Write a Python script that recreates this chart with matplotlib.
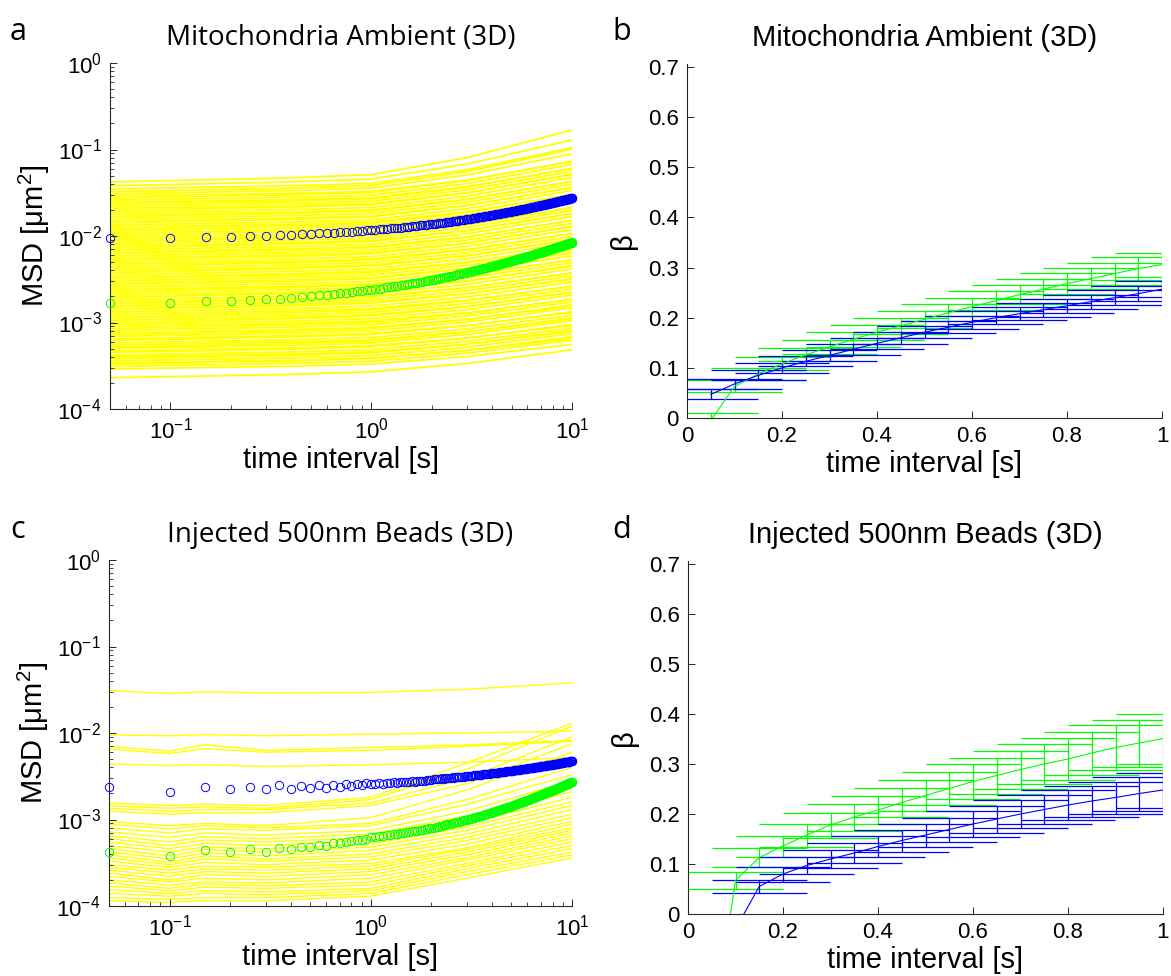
import numpy as np
import matplotlib
matplotlib.use("Agg")
import matplotlib.pyplot as plt
from matplotlib.ticker import LogLocator, NullFormatter, FixedLocator

plt.rcParams['font.family'] = ['Liberation Sans', 'DejaVu Sans']
plt.rcParams['mathtext.default'] = 'regular'
plt.rcParams['axes.unicode_minus'] = False

# lag times of the ensemble MSD (s), frame interval 0.05 s
lag = np.round(np.arange(1, 201) * 0.05, 2)

# ensemble MSD circles, in 1e-3 um^2
mito_blue = [9.39, 9.54, 9.69, 9.82, 9.95, 10.08, 10.21, 10.33, 10.45, 10.57, 10.69, 10.81, 10.92, 11.04, 11.15, 11.26, 11.37, 11.48, 11.59, 11.70,
             11.80, 11.91, 12.01, 12.11, 12.21, 12.32, 12.42, 12.52, 12.62, 12.73, 12.83, 12.93, 13.03, 13.14, 13.24, 13.34, 13.44, 13.55, 13.65, 13.75,
             13.85, 13.94, 14.04, 14.13, 14.23, 14.32, 14.42, 14.51, 14.61, 14.70, 14.80, 14.90, 14.99, 15.09, 15.18, 15.28, 15.37, 15.47, 15.56, 15.66,
             15.75, 15.84, 15.93, 16.02, 16.12, 16.21, 16.30, 16.39, 16.48, 16.57, 16.66, 16.75, 16.84, 16.93, 17.03, 17.12, 17.21, 17.30, 17.39, 17.48,
             17.57, 17.66, 17.74, 17.83, 17.92, 18.01, 18.10, 18.18, 18.27, 18.36, 18.45, 18.54, 18.62, 18.71, 18.80, 18.89, 18.98, 19.06, 19.15, 19.24,
             19.33, 19.41, 19.50, 19.58, 19.67, 19.75, 19.84, 19.92, 20.01, 20.10, 20.18, 20.27, 20.35, 20.44, 20.52, 20.61, 20.69, 20.78, 20.86, 20.95,
             21.03, 21.12, 21.20, 21.29, 21.37, 21.45, 21.54, 21.62, 21.71, 21.79, 21.87, 21.96, 22.04, 22.13, 22.21, 22.29, 22.38, 22.46, 22.55, 22.63,
             22.71, 22.79, 22.88, 22.96, 23.04, 23.12, 23.20, 23.29, 23.37, 23.45, 23.53, 23.61, 23.70, 23.78, 23.86, 23.94, 24.02, 24.11, 24.19, 24.27,
             24.35, 24.43, 24.51, 24.59, 24.68, 24.76, 24.84, 24.92, 25.00, 25.08, 25.16, 25.24, 25.32, 25.40, 25.49, 25.57, 25.65, 25.73, 25.81, 25.89,
             25.97, 26.05, 26.13, 26.21, 26.29, 26.37, 26.45, 26.53, 26.61, 26.69, 26.76, 26.84, 26.92, 27.00, 27.08, 27.16, 27.24, 27.32, 27.40, 27.48]
mito_green = [1.67, 1.67, 1.76, 1.78, 1.83, 1.87, 1.89, 1.94, 1.98, 2.02, 2.06, 2.10, 2.14, 2.18, 2.22, 2.26, 2.29, 2.33, 2.36, 2.40,
              2.44, 2.47, 2.51, 2.54, 2.58, 2.61, 2.65, 2.68, 2.72, 2.76, 2.79, 2.83, 2.86, 2.90, 2.93, 2.97, 3.00, 3.04, 3.07, 3.11,
              3.14, 3.18, 3.21, 3.25, 3.28, 3.32, 3.35, 3.39, 3.42, 3.46, 3.49, 3.52, 3.56, 3.59, 3.63, 3.66, 3.70, 3.73, 3.77, 3.80,
              3.83, 3.87, 3.90, 3.94, 3.97, 4.00, 4.04, 4.07, 4.11, 4.14, 4.17, 4.21, 4.24, 4.28, 4.31, 4.34, 4.38, 4.41, 4.45, 4.48,
              4.51, 4.55, 4.58, 4.61, 4.65, 4.68, 4.71, 4.75, 4.78, 4.82, 4.85, 4.88, 4.92, 4.95, 4.98, 5.02, 5.05, 5.08, 5.12, 5.15,
              5.18, 5.22, 5.25, 5.28, 5.32, 5.35, 5.38, 5.42, 5.45, 5.49, 5.52, 5.55, 5.59, 5.62, 5.65, 5.69, 5.72, 5.75, 5.79, 5.82,
              5.85, 5.89, 5.92, 5.95, 5.98, 6.02, 6.05, 6.08, 6.12, 6.15, 6.18, 6.22, 6.25, 6.28, 6.32, 6.35, 6.38, 6.41, 6.45, 6.48,
              6.51, 6.55, 6.58, 6.61, 6.65, 6.68, 6.71, 6.74, 6.78, 6.81, 6.84, 6.88, 6.91, 6.94, 6.98, 7.01, 7.04, 7.07, 7.11, 7.14,
              7.17, 7.20, 7.24, 7.27, 7.30, 7.33, 7.37, 7.40, 7.43, 7.46, 7.50, 7.53, 7.56, 7.59, 7.63, 7.66, 7.69, 7.72, 7.76, 7.79,
              7.82, 7.85, 7.89, 7.92, 7.95, 7.98, 8.02, 8.05, 8.08, 8.11, 8.15, 8.18, 8.21, 8.24, 8.28, 8.31, 8.34, 8.37, 8.41, 8.44]
bead_blue = [2.39, 2.10, 2.39, 2.23, 2.39, 2.23, 2.51, 2.23, 2.46, 2.33, 2.51, 2.29, 2.51, 2.36, 2.55, 2.43, 2.55, 2.51, 2.62, 2.55,
             2.58, 2.64, 2.60, 2.66, 2.63, 2.69, 2.66, 2.71, 2.68, 2.74, 2.71, 2.77, 2.74, 2.79, 2.77, 2.82, 2.80, 2.86, 2.84, 2.90,
             2.93, 2.91, 2.96, 2.94, 2.99, 2.96, 3.01, 2.99, 3.04, 3.02, 3.06, 3.04, 3.09, 3.07, 3.11, 3.10, 3.14, 3.12, 3.17, 3.17,
             3.18, 3.20, 3.21, 3.22, 3.23, 3.25, 3.26, 3.27, 3.28, 3.30, 3.31, 3.32, 3.33, 3.35, 3.36, 3.37, 3.38, 3.40, 3.41, 3.42,
             3.43, 3.44, 3.46, 3.47, 3.48, 3.49, 3.50, 3.52, 3.53, 3.54, 3.55, 3.56, 3.58, 3.59, 3.60, 3.61, 3.62, 3.64, 3.65, 3.66,
             3.67, 3.68, 3.69, 3.71, 3.72, 3.73, 3.74, 3.75, 3.76, 3.78, 3.79, 3.80, 3.81, 3.82, 3.83, 3.84, 3.86, 3.87, 3.88, 3.89,
             3.90, 3.91, 3.92, 3.93, 3.95, 3.96, 3.97, 3.98, 3.99, 4.00, 4.01, 4.02, 4.03, 4.04, 4.06, 4.07, 4.08, 4.09, 4.10, 4.11,
             4.12, 4.13, 4.14, 4.15, 4.16, 4.17, 4.18, 4.19, 4.20, 4.22, 4.23, 4.24, 4.25, 4.26, 4.27, 4.28, 4.29, 4.30, 4.31, 4.32,
             4.33, 4.34, 4.35, 4.36, 4.38, 4.39, 4.40, 4.41, 4.42, 4.43, 4.44, 4.45, 4.46, 4.47, 4.49, 4.50, 4.51, 4.52, 4.53, 4.54,
             4.55, 4.56, 4.57, 4.58, 4.59, 4.60, 4.61, 4.62, 4.63, 4.64, 4.65, 4.66, 4.67, 4.68, 4.69, 4.70, 4.71, 4.72, 4.73, 4.74]
bead_green = [0.417, 0.379, 0.444, 0.424, 0.452, 0.424, 0.464, 0.452, 0.477, 0.477, 0.507, 0.500, 0.531, 0.531, 0.554, 0.565, 0.580, 0.587, 0.595, 0.622,
              0.634, 0.642, 0.651, 0.659, 0.668, 0.677, 0.685, 0.694, 0.702, 0.711, 0.720, 0.728, 0.737, 0.745, 0.754, 0.763, 0.771, 0.780, 0.788, 0.797,
              0.807, 0.817, 0.827, 0.836, 0.846, 0.856, 0.866, 0.876, 0.886, 0.896, 0.905, 0.915, 0.925, 0.935, 0.945, 0.955, 0.964, 0.974, 0.984, 0.994,
              1.005, 1.015, 1.026, 1.037, 1.047, 1.058, 1.069, 1.079, 1.090, 1.101, 1.111, 1.122, 1.132, 1.143, 1.154, 1.164, 1.175, 1.186, 1.196, 1.207,
              1.218, 1.230, 1.241, 1.253, 1.264, 1.275, 1.287, 1.298, 1.310, 1.321, 1.332, 1.344, 1.355, 1.367, 1.378, 1.389, 1.401, 1.412, 1.424, 1.435,
              1.447, 1.459, 1.471, 1.483, 1.495, 1.507, 1.519, 1.531, 1.543, 1.555, 1.566, 1.578, 1.590, 1.602, 1.614, 1.626, 1.638, 1.650, 1.662, 1.674,
              1.686, 1.699, 1.711, 1.724, 1.736, 1.749, 1.761, 1.774, 1.786, 1.799, 1.811, 1.823, 1.836, 1.848, 1.861, 1.873, 1.886, 1.898, 1.911, 1.923,
              1.936, 1.949, 1.962, 1.975, 1.988, 2.001, 2.014, 2.027, 2.040, 2.053, 2.065, 2.078, 2.091, 2.104, 2.117, 2.130, 2.143, 2.156, 2.169, 2.182,
              2.195, 2.209, 2.222, 2.235, 2.249, 2.262, 2.275, 2.289, 2.302, 2.316, 2.329, 2.342, 2.356, 2.369, 2.382, 2.396, 2.409, 2.422, 2.436, 2.449,
              2.463, 2.476, 2.490, 2.504, 2.517, 2.531, 2.545, 2.559, 2.572, 2.586, 2.600, 2.613, 2.627, 2.641, 2.654, 2.668, 2.682, 2.696, 2.709, 2.723]

# single mitochondria tracks (yellow), MSD in 1e-3 um^2 at t = 0.05, 0.4, 1, 3, 10 s
mito_track_t = [0.05, 0.4, 1.0, 3.0, 10.0]
mito_at_005 = [0.23, 0.29, 0.31, 0.33, 0.34, 0.36, 0.38, 0.40, 0.42, 0.45, 0.47, 0.50, 0.52, 0.55, 0.58, 0.62, 0.65, 0.69, 0.72, 0.76,
               0.81, 0.85, 0.90, 0.95, 1.00, 1.06, 1.12, 1.18, 1.25, 1.32, 1.40, 1.48, 1.56, 1.65, 1.74, 1.84, 1.95, 2.06, 2.18, 2.30,
               2.43, 2.57, 2.72, 2.87, 3.03, 3.20, 3.38, 3.58, 3.78, 4.00, 4.22, 4.46, 4.72, 4.98, 5.27, 5.57, 5.88, 6.22, 6.57, 6.94,
               7.33, 7.75, 8.19, 8.65, 9.14, 9.66, 10.2, 10.8, 11.4, 12.0, 12.7, 13.4, 14.2, 15.0, 15.9, 16.8, 17.7, 18.7, 19.8, 20.9,
               22.1, 23.3, 24.6, 26.0, 27.5, 29.1, 30.7, 32.5, 35.0, 38.0, 42.0]
mito_at_04 = [0.251, 0.312, 0.336, 0.359, 0.367, 0.390, 0.417, 0.432, 0.456, 0.491, 0.508, 0.544, 0.571, 0.595, 0.631, 0.679, 0.705, 0.752, 0.793, 0.825,
              0.884, 0.933, 0.978, 1.038, 1.104, 1.153, 1.225, 1.298, 1.362, 1.446, 1.549, 1.614, 1.711, 1.819, 1.890, 2.010, 2.153, 2.241, 2.384, 2.529,
              2.633, 2.800, 2.995, 3.114, 3.305, 3.510, 3.672, 3.910, 4.172, 4.350, 4.615, 4.904, 5.114, 5.424, 5.801, 6.042, 6.413, 6.821, 7.099, 7.540,
              8.048, 8.384, 8.909, 9.461, 9.850, 10.47, 11.17, 11.65, 12.37, 13.09, 13.65, 14.48, 15.51, 16.14, 17.20, 18.28, 18.97, 20.16, 21.57, 22.43,
              23.85, 25.28, 26.30, 27.95, 29.88, 31.15, 33.6, 35.7, 38.1, 42.2, 47.1]
mito_at_1 = [0.269, 0.331, 0.357, 0.384, 0.389, 0.415, 0.446, 0.458, 0.486, 0.525, 0.540, 0.579, 0.613, 0.633, 0.673, 0.727, 0.749, 0.803, 0.853, 0.878,
             0.944, 1.000, 1.042, 1.110, 1.189, 1.230, 1.311, 1.394, 1.453, 1.549, 1.672, 1.724, 1.834, 1.958, 2.014, 2.149, 2.318, 2.389, 2.551, 2.717,
             2.799, 2.988, 3.219, 3.313, 3.531, 3.763, 3.910, 4.180, 4.492, 4.637, 4.937, 5.266, 5.436, 5.789, 6.235, 6.428, 6.849, 7.312, 7.532, 8.031,
             8.635, 8.903, 9.497, 10.12, 10.43, 11.13, 11.96, 12.35, 13.16, 13.98, 14.43, 15.37, 16.58, 17.08, 18.27, 19.49, 20.02, 21.35, 23.02, 23.68,
             25.28, 26.91, 27.69, 29.55, 31.82, 32.82, 35.9, 38.4, 40.6, 45.6, 51.2]
mito_at_3 = [0.336, 0.404, 0.441, 0.478, 0.474, 0.518, 0.560, 0.562, 0.605, 0.657, 0.662, 0.727, 0.775, 0.782, 0.842, 0.915, 0.925, 1.013, 1.083, 1.091,
             1.188, 1.267, 1.294, 1.408, 1.518, 1.538, 1.659, 1.775, 1.815, 1.975, 2.145, 2.167, 2.333, 2.506, 2.538, 2.764, 2.999, 3.029, 3.273, 3.505,
             3.558, 3.875, 4.198, 4.241, 4.569, 4.896, 5.001, 5.447, 5.889, 5.963, 6.418, 6.888, 7.007, 7.607, 8.236, 8.337, 8.979, 9.637, 9.792, 10.64,
             11.49, 11.65, 12.55, 13.45, 13.68, 14.86, 16.05, 16.29, 17.53, 18.72, 19.08, 20.69, 22.42, 22.72, 24.54, 26.29, 26.69, 28.95, 31.35, 31.73,
             34.20, 36.60, 37.22, 40.39, 43.66, 44.34, 50.7, 55.4, 58.3, 67.7, 80.4]
mito_at_10 = [0.483, 0.559, 0.624, 0.683, 0.655, 0.743, 0.813, 0.787, 0.863, 0.950, 0.924, 1.052, 1.134, 1.104, 1.214, 1.333, 1.305, 1.479, 1.599, 1.556,
              1.729, 1.862, 1.842, 2.075, 2.261, 2.213, 2.435, 2.633, 2.610, 2.936, 3.221, 3.149, 3.454, 3.747, 3.703, 4.166, 4.565, 4.466, 4.916, 5.315,
              5.268, 5.924, 6.476, 6.337, 6.954, 7.526, 7.463, 8.395, 9.155, 8.992, 9.854, 10.67, 10.61, 11.88, 12.97, 12.75, 13.97, 15.13, 15.04, 16.83,
              18.34, 18.05, 19.78, 21.38, 21.29, 23.82, 25.93, 25.59, 28.00, 30.14, 30.09, 33.58, 36.66, 36.14, 39.69, 42.87, 42.64, 47.61, 51.92, 51.18,
              56.05, 60.39, 60.25, 67.24, 73.21, 72.43, 89.0, 100.8, 105.0, 129.2, 168.0]

# single bead tracks (yellow), MSD in 1e-3 um^2 at the times below
bead_track_t = [0.05, 0.1, 0.15, 0.3, 1.0, 3.0, 10.0]
bead_at_005 = [31.0, 9.5, 7.0, 6.5, 4.4, 1.55, 1.45, 1.35, 1.25, 0.95, 0.88, 0.80, 0.72, 0.65, 0.60, 0.55, 0.50,
               0.46, 0.42, 0.39, 0.36, 0.33, 0.30, 0.28, 0.26, 0.24, 0.22, 0.20, 0.185, 0.17, 0.155, 0.14, 0.125, 0.115]
bead_at_01 = [28.5, 9.3, 6.2, 5.8, 4.2, 1.45, 1.35, 1.25, 1.15, 0.85, 0.78, 0.70, 0.62, 0.55, 0.50, 0.46, 0.42,
              0.38, 0.35, 0.32, 0.30, 0.28, 0.26, 0.24, 0.22, 0.20, 0.19, 0.175, 0.16, 0.15, 0.14, 0.13, 0.12, 0.11]
bead_at_015 = [30.0, 9.6, 7.3, 6.6, 4.3, 1.50, 1.40, 1.30, 1.20, 0.90, 0.85, 0.78, 0.70, 0.63, 0.58, 0.53, 0.48,
               0.45, 0.41, 0.38, 0.35, 0.32, 0.29, 0.27, 0.25, 0.23, 0.21, 0.19, 0.18, 0.165, 0.15, 0.14, 0.125, 0.115]
bead_at_03 = [29.0, 9.3, 6.3, 6.0, 4.1, 1.45, 1.35, 1.30, 1.20, 0.85, 0.80, 0.75, 0.66, 0.60, 0.55, 0.50, 0.46,
              0.42, 0.38, 0.35, 0.33, 0.30, 0.28, 0.26, 0.24, 0.22, 0.20, 0.185, 0.17, 0.16, 0.145, 0.135, 0.125, 0.115]
bead_at_1 = [29.5, 9.7, 6.8, 6.3, 4.3, 1.80, 1.70, 1.55, 1.45, 1.05, 0.90, 0.85, 0.75, 0.68, 0.62, 0.58, 0.52,
             0.48, 0.44, 0.40, 0.37, 0.34, 0.31, 0.29, 0.27, 0.25, 0.23, 0.21, 0.19, 0.175, 0.16, 0.15, 0.14, 0.13]
bead_at_3 = [32.0, 10.0, 7.3, 7.0, 4.6, 4.5, 3.8, 3.0, 2.6, 2.2, 1.7, 1.5, 1.25, 1.10, 1.00, 0.90, 0.82,
             0.75, 0.68, 0.62, 0.57, 0.52, 0.47, 0.45, 0.42, 0.39, 0.36, 0.34, 0.31, 0.29, 0.27, 0.25, 0.23, 0.21]
bead_at_10 = [38.0, 10.5, 8.2, 8.0, 5.2, 13.0, 12.0, 9.0, 7.5, 6.0, 4.0, 3.3, 2.8, 2.3, 2.1, 1.8, 1.6,
              1.45, 1.30, 1.15, 1.05, 0.95, 0.88, 0.80, 0.75, 0.70, 0.65, 0.60, 0.55, 0.50, 0.46, 0.42, 0.39, 0.36]

# beta (local power-law exponent) with error
beta_t = [0.05, 0.10, 0.15, 0.20, 0.25, 0.30, 0.35, 0.40, 0.45, 0.50,
          0.55, 0.60, 0.65, 0.70, 0.75, 0.80, 0.85, 0.90, 0.95, 1.00]
mito_beta_blue = [0.047, 0.068, 0.085, 0.100, 0.113, 0.125, 0.137, 0.149, 0.160, 0.171,
                  0.181, 0.191, 0.200, 0.208, 0.216, 0.224, 0.232, 0.240, 0.248, 0.257]
mito_err_blue = [0.010, 0.010, 0.010, 0.010, 0.010, 0.011, 0.011, 0.011, 0.012, 0.012,
                 0.012, 0.013, 0.013, 0.013, 0.014, 0.014, 0.014, 0.015, 0.015, 0.016]
mito_beta_green = [-0.005, 0.063, 0.088, 0.108, 0.126, 0.142, 0.157, 0.171, 0.184, 0.197,
                   0.210, 0.222, 0.234, 0.246, 0.257, 0.268, 0.278, 0.288, 0.298, 0.306]
mito_err_green = [0.015, 0.012, 0.012, 0.013, 0.013, 0.014, 0.015, 0.015, 0.016, 0.017,
                  0.017, 0.018, 0.019, 0.019, 0.020, 0.021, 0.021, 0.022, 0.023, 0.024]
bead_beta_blue = [-0.25, -0.03, 0.055, 0.080, 0.097, 0.110, 0.122, 0.135, 0.147, 0.158,
                  0.169, 0.180, 0.190, 0.200, 0.209, 0.218, 0.226, 0.233, 0.241, 0.248]
bead_err_blue = [0.020, 0.020, 0.013, 0.015, 0.017, 0.018, 0.020, 0.021, 0.022, 0.023,
                 0.024, 0.026, 0.027, 0.028, 0.029, 0.030, 0.031, 0.032, 0.034, 0.035]
bead_beta_green = [-0.25, 0.067, 0.113, 0.136, 0.158, 0.178, 0.194, 0.208, 0.223, 0.237,
                   0.251, 0.265, 0.277, 0.289, 0.300, 0.310, 0.322, 0.333, 0.342, 0.351]
bead_err_green = [0.030, 0.017, 0.019, 0.021, 0.023, 0.025, 0.027, 0.028, 0.029, 0.031,
                  0.033, 0.035, 0.036, 0.038, 0.040, 0.042, 0.043, 0.045, 0.047, 0.050]

BLUE = '#0000ff'
GREEN = '#00ff00'
YELLOW = '#ffff00'
CAP = 0.0995   # errorbar tee half-width in data units (lag range / 100)

W, H = 1171, 976
fig = plt.figure(figsize=(W / 100, H / 100), dpi=100)


def box(l, t, r, b):
    return [l / W, 1 - b / H, (r - l) / W, (b - t) / H]


def style(ax):
    for s in ['top', 'right']:
        ax.spines[s].set_visible(False)
    for s in ['left', 'bottom']:
        ax.spines[s].set_color('#262626')
        ax.spines[s].set_linewidth(0.8)
    ax.tick_params(which='major', direction='in', length=5, width=0.7,
                   labelsize=16, pad=6, colors='#262626', labelcolor='black')
    ax.tick_params(which='minor', direction='in', length=3, width=0.6, colors='#262626')


def msd_panel(ax, track_t, tracks, blue, green, title, lw):
    for vals in zip(*tracks):
        ax.plot(track_t, np.array(vals) * 1e-3, color=YELLOW, lw=lw, zorder=1)
    ax.plot(lag, np.array(blue) * 1e-3, 'o', mfc='none', mec=BLUE, ms=6, mew=0.7,
            zorder=3, clip_on=False)
    ax.plot(lag, np.array(green) * 1e-3, 'o', mfc='none', mec=GREEN, ms=6, mew=0.7,
            zorder=3, clip_on=False)
    ax.set_xscale('log')
    ax.set_yscale('log')
    ax.set_xlim(0.05, 10)
    ax.set_ylim(1e-4, 1)
    ax.yaxis.set_major_locator(LogLocator(base=10, numticks=10))
    ax.yaxis.set_minor_locator(LogLocator(base=10, subs=range(2, 10), numticks=20))
    ax.yaxis.set_minor_formatter(NullFormatter())
    ax.xaxis.set_minor_locator(LogLocator(base=10, subs=range(2, 10), numticks=20))
    ax.xaxis.set_minor_formatter(NullFormatter())
    style(ax)
    ax.set_xlabel('time interval [s]', fontsize=21, labelpad=2)
    ax.set_ylabel('MSD [μm$^2$]', fontsize=21, labelpad=4)
    ax.set_title(title, fontsize=20, family=['Open Sans', 'DejaVu Sans'], pad=13)


def beta_panel(ax, series, title):
    t = np.array(beta_t)
    for b, e, c in series:
        b = np.array(b)
        e = np.array(e)
        ax.plot(t, b, color=c, lw=0.8, zorder=3)
        ax.vlines(t, b - e, b + e, color=c, lw=0.9, zorder=2)
        ax.hlines(b - e, t - CAP, t + CAP, color=c, lw=0.9, zorder=2)
        ax.hlines(b + e, t - CAP, t + CAP, color=c, lw=0.9, zorder=2)
    ax.set_xlim(0, 1)
    ax.set_ylim(0, 0.706)
    ax.xaxis.set_major_locator(FixedLocator([0, 0.2, 0.4, 0.6, 0.8, 1.0]))
    ax.yaxis.set_major_locator(FixedLocator([0, 0.1, 0.2, 0.3, 0.4, 0.5, 0.6, 0.7]))
    ax.set_xticklabels(['0', '0.2', '0.4', '0.6', '0.8', '1'])
    ax.set_yticklabels(['0', '0.1', '0.2', '0.3', '0.4', '0.5', '0.6', '0.7'])
    style(ax)
    ax.set_xlabel('time interval [s]', fontsize=21, labelpad=2)
    ax.set_ylabel('β', fontsize=21, labelpad=8)
    ax.set_title(title, fontsize=21, pad=13)


ax_a = fig.add_axes(box(110, 63, 572, 409))
msd_panel(ax_a, mito_track_t, [mito_at_005, mito_at_04, mito_at_1, mito_at_3, mito_at_10],
          mito_blue, mito_green, 'Mitochondria Ambient (3D)', 1.3)

ax_b = fig.add_axes(box(687, 64, 1162, 418))
beta_panel(ax_b, [(mito_beta_green, mito_err_green, GREEN),
                  (mito_beta_blue, mito_err_blue, BLUE)], 'Mitochondria Ambient (3D)')

ax_c = fig.add_axes(box(109, 560, 572, 906))
msd_panel(ax_c, bead_track_t, [bead_at_005, bead_at_01, bead_at_015, bead_at_03,
                               bead_at_1, bead_at_3, bead_at_10],
          bead_blue, bead_green, 'Injected 500nm Beads (3D)', 1.0)

ax_d = fig.add_axes(box(688, 561, 1163, 914))
beta_panel(ax_d, [(bead_beta_green, bead_err_green, GREEN),
                  (bead_beta_blue, bead_err_blue, BLUE)], 'Injected 500nm Beads (3D)')

for letter, x, y in [('a', 18, 32), ('b', 622, 32), ('c', 18, 530), ('d', 622, 530)]:
    fig.text(x / W, 1 - y / H, letter, fontsize=22, family=['Open Sans', 'DejaVu Sans'],
             ha='center', va='center')

fig.savefig('out.png', dpi=100)
